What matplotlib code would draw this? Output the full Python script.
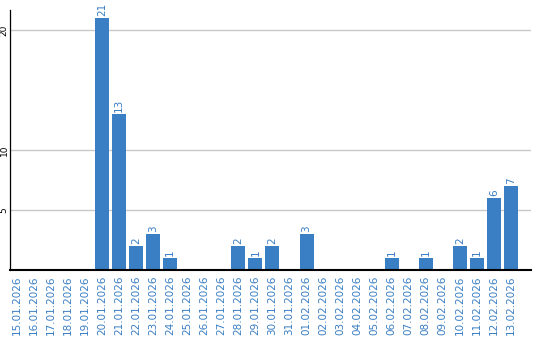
import matplotlib

matplotlib.use("Agg")
import matplotlib.pyplot as plt
import numpy as np

dates = [
    "15.01.2026", "16.01.2026", "17.01.2026", "18.01.2026", "19.01.2026",
    "20.01.2026", "21.01.2026", "22.01.2026", "23.01.2026", "24.01.2026",
    "25.01.2026", "26.01.2026", "27.01.2026", "28.01.2026", "29.01.2026",
    "30.01.2026", "31.01.2026", "01.02.2026", "02.02.2026", "03.02.2026",
    "04.02.2026", "05.02.2026", "06.02.2026", "07.02.2026", "08.02.2026",
    "09.02.2026", "10.02.2026", "11.02.2026", "12.02.2026", "13.02.2026",
]
counts = [0, 0, 0, 0, 0, 21, 13, 2, 3, 1,
          0, 0, 0, 2, 1, 2, 0, 3, 0, 0,
          0, 0, 1, 0, 1, 0, 2, 1, 6, 7]
y_ticks = [5, 10, 20]

BLUE = "#3a7ec3"

fig = plt.figure(figsize=(5.4, 3.4), dpi=100)
ax = fig.add_axes([10 / 540, 70 / 340, 521 / 540, 260 / 340])

x = np.arange(len(dates))
ax.bar(x, counts, width=0.82, color=BLUE, zorder=3)
for xi, v in zip(x, counts):
    if v > 0:
        ax.text(xi, v + 0.15, str(v), rotation=90, ha="center", va="bottom",
                color=BLUE, fontsize=7.5, zorder=4)

ax.set_xlim(-0.41, 30.18)
ax.set_ylim(0, 21.67)
ax.set_yticks(y_ticks)
ax.set_yticklabels([str(t) for t in y_ticks], rotation=90, va="center",
                   fontsize=6.5)
ax.set_xticks(x)
ax.set_xticklabels(dates, rotation=90, color=BLUE, fontsize=7.5)
ax.tick_params(axis="both", length=0)
ax.tick_params(axis="y", pad=1)
ax.tick_params(axis="x", pad=4)
ax.grid(axis="y", color="#c8c8c8", lw=1.0, zorder=0)

for s in ("top", "right"):
    ax.spines[s].set_visible(False)
ax.spines["left"].set_linewidth(0.9)
ax.spines["bottom"].set_linewidth(1.5)
ax.spines["bottom"].set_zorder(5)

fig.savefig("out.png", dpi=100)
